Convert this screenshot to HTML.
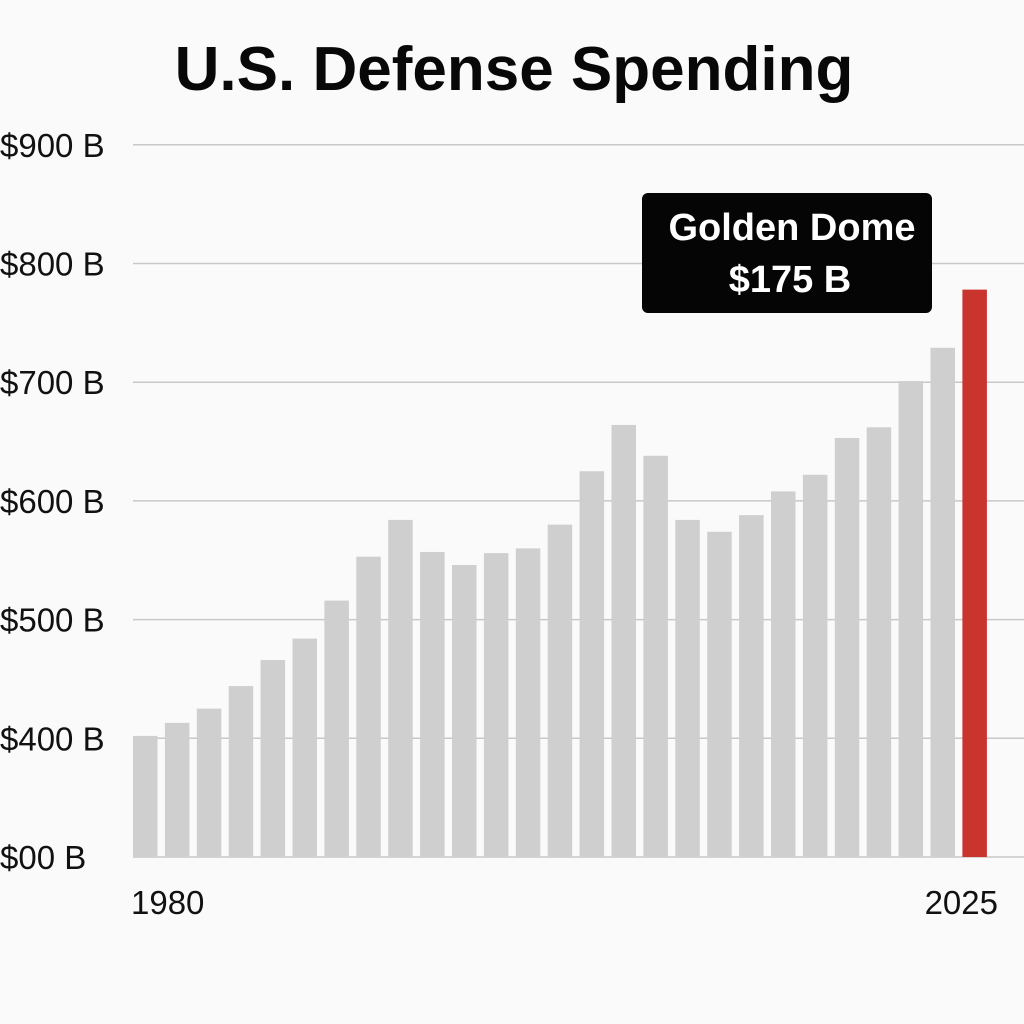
<!DOCTYPE html>
<html><head><meta charset="utf-8"><style>
body{margin:0;background:#fafafa;}
svg{display:block;font-family:"Liberation Sans",sans-serif;}
</style></head><body>
<svg id="chart" width="1024" height="1024">
<rect width="1024" height="1024" fill="#fafafa"/>
<text x="514" y="90" text-anchor="middle" font-size="62" font-weight="bold" fill="#080808">U.S. Defense Spending</text>
<g id="grid"></g><g id="bars"></g>
<rect x="642" y="193" width="290" height="120" rx="6" fill="#050505"/>
<text x="792" y="240" text-anchor="middle" font-size="38" font-weight="bold" fill="#fff">Golden Dome</text>
<text x="790" y="292" text-anchor="middle" font-size="38" font-weight="bold" fill="#fff">$175 B</text>
<text x="131" y="914" font-size="33" fill="#111">1980</text>
<text x="998" y="914" text-anchor="end" font-size="33" fill="#111">2025</text>
</svg>
<script>
const tickValues=[300,400,500,600,700,800,900];
const tickLabels=["$00 B","$400 B","$500 B","$600 B","$700 B","$800 B","$900 B"];
const values=[402,413,425,444,466,484,516,553,584,557,546,556,560,580,625,664,638,584,574,588,608,622,653,662,701,729,778];
const highlight=[26];
const NS="http://www.w3.org/2000/svg";
function y(v){return 857-(v-300)*1.187;}
function x(i){return 133+i*31.9;}
const grid=document.getElementById('grid'),bars=document.getElementById('bars');
tickValues.forEach((t,k)=>{
 const l=document.createElementNS(NS,'line');
 l.setAttribute('x1',133);l.setAttribute('x2',1024);l.setAttribute('y1',y(t));l.setAttribute('y2',y(t));
 l.setAttribute('stroke','#c8c8c8');l.setAttribute('stroke-width','1.5');
 
 
 grid.appendChild(l);
 const tx=document.createElementNS(NS,'text');
 tx.setAttribute('x',0);tx.setAttribute('y',y(t)+12);tx.setAttribute('font-size','33');tx.setAttribute('fill','#111');
 tx.textContent=tickLabels[k];
 
 
 grid.appendChild(tx);
});
values.forEach((v,i)=>{
 const r=document.createElementNS(NS,'rect');
 r.setAttribute('x',x(i));r.setAttribute('width',24.5);r.setAttribute('y',y(v));r.setAttribute('height',857-y(v));
 r.setAttribute('fill',highlight.includes(i)?'#c9342c':'#cfcfcf');
 
 
 bars.appendChild(r);
});
</script>
</body></html>
